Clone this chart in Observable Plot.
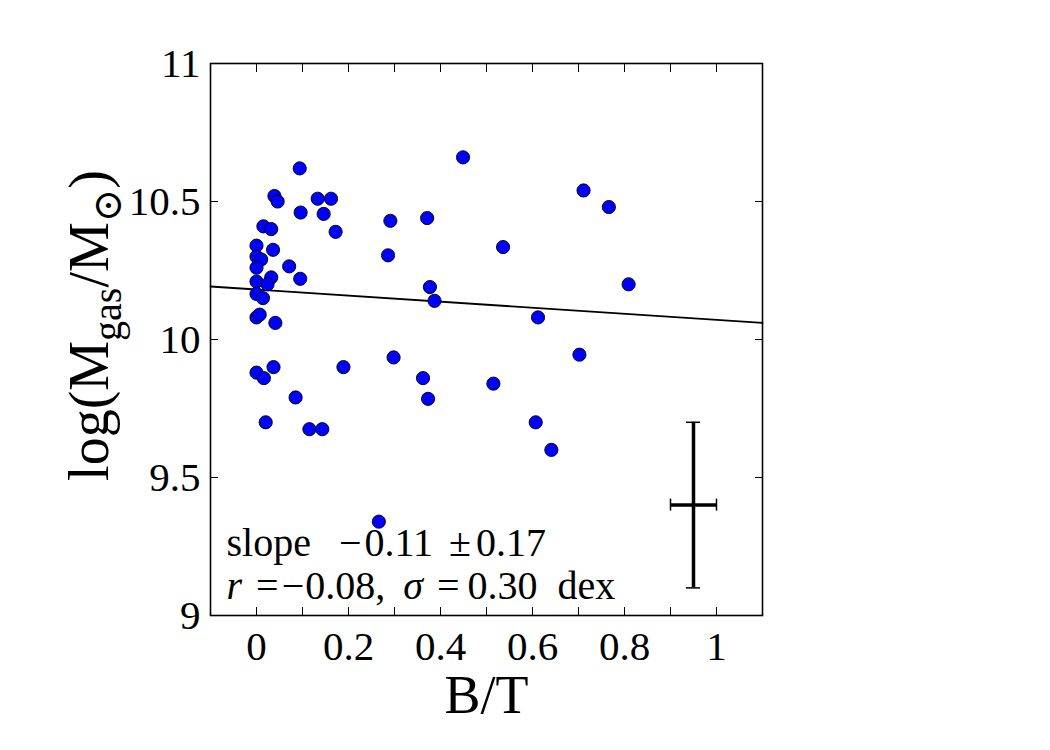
<!DOCTYPE html>
<html><head><meta charset="utf-8">
<script src="https://cdn.jsdelivr.net/npm/d3@7"></script>
<script src="https://cdn.jsdelivr.net/npm/@observablehq/plot@0.6"></script>
<style>body{margin:0;background:#fff;}</style>
</head><body><div id="chart"></div>
<script>
// Bulge-to-total ratio and gas mass for each galaxy
const bt = [0.449, 0.094, 0.711, 0.766, 0.039, 0.046, 0.133, 0.162, 0.096, 0.146,
            0.172, 0.291, 0.371, 0.286, 0.536, 0.377, 0.387, 0.809, 0.612, 0.015,
            0.032, 0.000, 0.036, 0.000, 0.010, 0.000, 0.071, 0.000, 0.032, 0.095,
            0.024, 0.000, 0.014, 0.000, 0.007, 0.041, 0.000, 0.037, 0.016, 0.189,
            0.298, 0.362, 0.515, 0.373, 0.702, 0.085, 0.020, 0.115, 0.143, 0.607,
            0.641, 0.266];
const logMgas = [10.66, 10.62, 10.54, 10.48, 10.52, 10.50, 10.51, 10.51, 10.46, 10.455,
                 10.39, 10.43, 10.44, 10.305, 10.335, 10.19, 10.14, 10.20, 10.08, 10.41,
                 10.40, 10.34, 10.325, 10.30, 10.29, 10.26, 10.265, 10.21, 10.225, 10.22,
                 10.20, 10.165, 10.15, 10.08, 10.09, 10.06, 9.88, 9.90, 9.86, 9.90,
                 9.935, 9.86, 9.84, 9.785, 9.945, 9.79, 9.70, 9.675, 9.675, 9.70,
                 9.60, 9.34];
// Linear fit
const fitSlope = -0.11;
const fitIntercept = 10.181;
// Typical error bar
const errCenter = [0.95, 9.4];
const errHalf = [0.05, 0.3];
// Axes
const xDomain = [-0.1, 1.1];
const yDomain = [9, 11];
const xTickLabels = [0, 0.2, 0.4, 0.6, 0.8, 1];
const xTickMarks = [0, 0.1, 0.2, 0.3, 0.4, 0.5, 0.6, 0.7, 0.8, 0.9, 1.0];
const yTickLabels = [9, 9.5, 10, 10.5, 11];
// Texts
const statsLine1 = ["slope", "\u2212", "0.11", "\u00b1", "0.17"];
const statsLine2 = ["r", "=", "\u2212", "0.08,", "\u03c3", "=", "0.30", "dex"];
const xLabel = "B/T";
const yLabel = ["log(M", "gas", "/M", "\u2299", ")"];

const points = bt.map((b, i) => ({bt: b, m: logMgas[i]}));
const fitLine = xDomain.map(x => ({x, y: fitIntercept + fitSlope * x}));
const errPt = [{x: errCenter[0], y: errCenter[1]}];

const F = "Liberation Serif, DejaVu Serif, serif";
const blank = () => "";
const s1 = statsLine1.join(" ");
const s2 = statsLine2.join(" ");
const yl = yLabel.join("");

const plot = Plot.plot({
  width: 1050, height: 750,
  marginLeft: 210, marginRight: 288, marginTop: 63, marginBottom: 135,
  style: {fontFamily: F, background: "white", color: "black"},
  x: {domain: xDomain, label: null},
  y: {domain: yDomain, label: null},
  marks: [
    Plot.axisX({ticks: xTickLabels, tickSize: 0, tickPadding: 15, tickFormat: d => String(d), fontSize: 41, label: null}),
    Plot.axisY({ticks: yTickLabels, tickSize: 0, tickPadding: 10, tickFormat: d => String(d), fontSize: 41, label: null}),
    Plot.axisX({ticks: xTickMarks, anchor: "bottom", tickSize: -8, tickFormat: blank, label: null, strokeWidth: 1}),
    Plot.axisX({ticks: xTickMarks, anchor: "top", tickSize: -8, tickFormat: blank, label: null, strokeWidth: 1}),
    Plot.axisY({ticks: yTickLabels, anchor: "left", tickSize: -8, tickFormat: blank, label: null, strokeWidth: 1}),
    Plot.axisY({ticks: yTickLabels, anchor: "right", tickSize: -8, tickFormat: blank, label: null, strokeWidth: 1}),
    Plot.line(fitLine, {x: "x", y: "y", stroke: "black", strokeWidth: 1.8}),
    Plot.dot(points, {x: "bt", y: "m", r: 6.6, fill: "#0000ff", stroke: "black", strokeWidth: 0.9}),
    Plot.ruleX(errPt, {x: "x", y1: d => d.y - errHalf[1], y2: d => d.y + errHalf[1], stroke: "black", strokeWidth: 3.5}),
    Plot.ruleY(errPt, {y: "y", x1: d => d.x - errHalf[0], x2: d => d.x + errHalf[0], stroke: "black", strokeWidth: 3.5}),
    Plot.ruleY(errPt, {y: d => d.y - errHalf[1], x1: "x", x2: "x", insetLeft: -7, insetRight: -7, stroke: "black", strokeWidth: 1.5}),
    Plot.ruleY(errPt, {y: d => d.y + errHalf[1], x1: "x", x2: "x", insetLeft: -7, insetRight: -7, stroke: "black", strokeWidth: 1.5}),
    Plot.ruleX(errPt, {x: d => d.x - errHalf[0], y1: "y", y2: "y", insetTop: -6, insetBottom: -6, stroke: "black", strokeWidth: 1.5}),
    Plot.ruleX(errPt, {x: d => d.x + errHalf[0], y1: "y", y2: "y", insetTop: -6, insetBottom: -6, stroke: "black", strokeWidth: 1.5}),
    Plot.frame({stroke: "black", strokeWidth: 1.6}),
    Plot.text([s1], {frameAnchor: "bottom-left", text: d => d, dx: 16, dy: -60, lineAnchor: "bottom", textAnchor: "start", fontSize: 40, fill: "black"}),
    Plot.text([s2], {frameAnchor: "bottom-left", text: d => d, dx: 16, dy: -17, lineAnchor: "bottom", textAnchor: "start", fontSize: 40, fill: "black"}),
    Plot.text([xLabel], {frameAnchor: "bottom", text: d => d, dy: 97, lineAnchor: "bottom", fontSize: 54, fill: "black"}),
    Plot.text([yl], {frameAnchor: "left", text: d => d, dx: -103, dy: -14, rotate: -90, lineAnchor: "bottom", textAnchor: "middle", fontSize: 56, fill: "black"})
  ]
});
document.getElementById("chart").appendChild(plot);

// rich text: spacing, italics and subscripts
const NS = "http://www.w3.org/2000/svg";
const allText = Array.from(plot.querySelectorAll("text"));
function rich(str, segs) {
  const el = allText.find(t => t.textContent === str);
  if (!el) return;
  el.textContent = "";
  for (const s of segs) {
    const ts = document.createElementNS(NS, "tspan");
    ts.textContent = s.t;
    if (s.dx) ts.setAttribute("dx", s.dx);
    if (s.dy) ts.setAttribute("dy", s.dy);
    if (s.italic) ts.setAttribute("font-style", "italic");
    if (s.size) ts.setAttribute("font-size", s.size);
    el.appendChild(ts);
  }
}
const L1 = statsLine1, L2 = statsLine2, Y = yLabel;
rich(s1, [{t: L1[0]}, {t: L1[1], dx: 28}, {t: L1[2], dx: 3}, {t: L1[3], dx: 16}, {t: L1[4], dx: 5}]);
rich(s2, [{t: L2[0], italic: true}, {t: L2[1], dx: 14}, {t: L2[2], dx: 3}, {t: L2[3], dx: 1},
          {t: L2[4], italic: true, dx: 18}, {t: L2[5], dx: 14}, {t: L2[6], dx: 8}, {t: L2[7], dx: 20}]);
rich(yl, [{t: Y[0]}, {t: Y[1], size: 40, dy: 13}, {t: Y[2], dy: -13}, {t: Y[3], size: 40, dy: 13}, {t: Y[4], dy: -13}]);
</script>
</body></html>
